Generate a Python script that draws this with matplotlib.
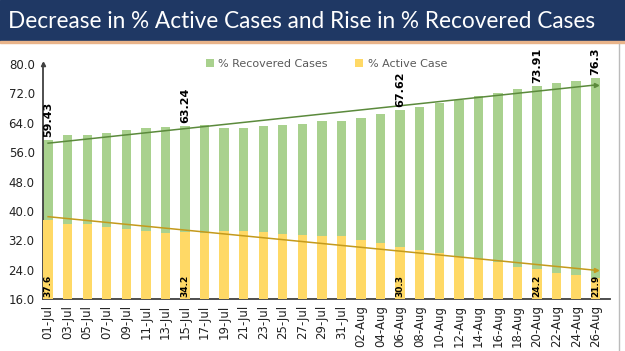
import numpy as np
import matplotlib
matplotlib.use("Agg")
import matplotlib.pyplot as plt
from matplotlib.patches import Rectangle

# dates shown on the x axis (every second day)
dates = ["01-Jul", "03-Jul", "05-Jul", "07-Jul", "09-Jul", "11-Jul", "13-Jul", "15-Jul",
         "17-Jul", "19-Jul", "21-Jul", "23-Jul", "25-Jul", "27-Jul", "29-Jul", "31-Jul",
         "02-Aug", "04-Aug", "06-Aug", "08-Aug", "10-Aug", "12-Aug", "14-Aug", "16-Aug",
         "18-Aug", "20-Aug", "22-Aug", "24-Aug", "26-Aug"]

recovered = [59.43, 60.7, 60.7, 61.1, 62.0, 62.7, 63.0, 63.24, 63.3, 62.7, 62.6, 63.1,
             63.5, 63.8, 64.5, 64.5, 65.3, 66.3, 67.62, 68.4, 69.4, 70.3, 71.2, 72.0,
             73.3, 73.91, 74.8, 75.4, 76.3]

active = [37.6, 36.4, 36.5, 35.8, 35.0, 34.5, 34.1, 34.2, 34.1, 34.5, 34.6, 34.2,
          33.8, 33.6, 33.2, 33.2, 32.2, 31.4, 30.3, 29.4, 28.5, 27.6, 26.9, 26.1,
          24.7, 24.2, 23.2, 22.6, 21.9]

# bars that carry a value label
label_idx = [0, 7, 18, 25, 28]

green = "#a9d18e"
yellow = "#ffd966"
base = 16.0

fig = plt.figure(figsize=(6.25, 3.51), dpi=100)
fig.patches.append(Rectangle((0, 1 - 41 / 351), 1, 41 / 351, transform=fig.transFigure,
                             color="#1f3864", zorder=0))
fig.patches.append(Rectangle((0, 1 - 43 / 351), 1, 2 / 351, transform=fig.transFigure,
                             color="#e9b48a", zorder=0))
fig.text(0.013, 1 - 21 / 351, "Decrease in % Active Cases and Rise in % Recovered Cases",
         color="white", fontsize=16.3, family="Lato", va="center", ha="left")

ax = fig.add_axes([43 / 625, 1 - 299.3 / 351, (610 - 43) / 625, (299.3 - 64) / 351])
x = np.arange(len(dates))
rec_h = np.array(recovered) - base
act_h = np.array(active) - base
ax.bar(x, rec_h, bottom=base, width=0.48, color=green, label="% Recovered Cases", zorder=2)
ax.bar(x, act_h, bottom=base, width=0.48, color=yellow, label="% Active Case", zorder=3)

# linear trend lines
for vals, col in [(recovered, "#5b8a3c"), (active, "#c49a1c")]:
    k, b = np.polyfit(x, vals, 1)
    ax.plot([x[0], x[-1]], [b, k * x[-1] + b], color=col, lw=1.1, zorder=4)
    ax.plot(x[-1], k * x[-1] + b, marker=">", color=col, ms=3, zorder=4)

for i in label_idx:
    ax.text(x[i], recovered[i] + 0.8, f"{recovered[i]:g}", rotation=90, ha="center",
            va="bottom", fontsize=8, fontweight="bold", color="black", zorder=5)
    ax.text(x[i], base + 0.5, f"{active[i]:g}", rotation=90, ha="center",
            va="bottom", fontsize=6.5, fontweight="bold", color="black", zorder=5)

ax.set_xlim(-0.26, 28.73)
ax.set_ylim(16, 80)
ax.set_yticks(np.arange(16, 81, 8))
ax.set_yticklabels([f"{v:.1f}" for v in np.arange(16, 81, 8)])
ax.set_xticks(x)
ax.set_xticklabels(dates, rotation=90)
ax.tick_params(axis="both", length=0, labelsize=8.5, colors="#222222")
ax.tick_params(axis="y", pad=6)
ax.tick_params(axis="x", pad=4)

for s in ["top", "right"]:
    ax.spines[s].set_visible(False)
ax.spines["left"].set_color("#404040")
ax.spines["left"].set_linewidth(1.3)
ax.spines["bottom"].set_color("#404040")
ax.spines["bottom"].set_linewidth(1.3)
ax.plot(0, 1, marker="^", color="#404040", ms=3, transform=ax.transAxes, clip_on=False)

ax.legend(loc="upper center", bbox_to_anchor=(0.5, 1.065), ncol=2, frameon=False,
          fontsize=8, handlelength=0.7, handleheight=0.7, columnspacing=2.5,
          handletextpad=0.4, labelcolor="#595959")

fig.add_artist(plt.Line2D([619 / 625, 619 / 625], [0, 1 - 44 / 351], color="#bbbbbb", lw=1))

fig.savefig("out.png", dpi=100)
